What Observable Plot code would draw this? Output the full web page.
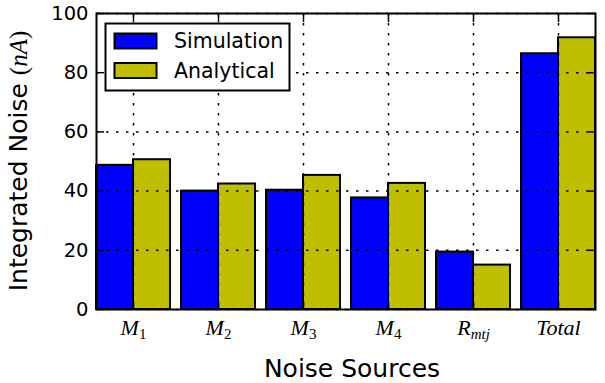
<!DOCTYPE html>
<html><head><meta charset="utf-8">
<script src="https://cdn.jsdelivr.net/npm/d3@7"></script>
<script src="https://cdn.jsdelivr.net/npm/@observablehq/plot@0.6"></script>
<style>body{margin:0;background:#fff} #chart svg{display:block}</style>
</head><body><div id="chart"></div>
<script>
const categories = ["M_1","M_2","M_3","M_4","R_mtj","Total"];
const simulation = [48.7, 40.0, 40.3, 37.7, 19.4, 86.4];
const analytical = [50.6, 42.4, 45.3, 42.6, 15.0, 91.8];
const yTicks = [0, 20, 40, 60, 80, 100];
const seriesNames = ["Simulation", "Analytical"];
const colors = ["#0000ff", "#bfbf00"];

const W = 605, H = 383, mL = 96, mR = 10, mT = 13, mB = 74;
const padInner = 0.13;
const bw = (W - mL - mR) / (categories.length - padInner) * (1 - padInner);
const half = bw / 2;

const rows = categories.map((c, i) => ({cat: c, sim: simulation[i], ana: analytical[i]}));
const dash = "2.5,7.5";

const svg = Plot.plot({
  width: W, height: H,
  marginLeft: mL, marginRight: mR, marginTop: mT, marginBottom: mB,
  style: {fontFamily: "DejaVu Sans", background: "white", color: "black"},
  x: {type: "band", domain: categories, paddingInner: padInner, paddingOuter: 0, label: null},
  y: {domain: [0, 100], label: null},
  marks: [
    Plot.barY(rows, {x: "cat", y: "sim", fill: colors[0], stroke: "black", strokeWidth: 2, insetRight: half}),
    Plot.barY(rows, {x: "cat", y: "ana", fill: colors[1], stroke: "black", strokeWidth: 2, insetLeft: half}),
    Plot.gridY({ticks: yTicks, stroke: "black", strokeOpacity: 1, strokeWidth: 1.5, strokeDasharray: dash}),
    Plot.gridX({ticks: categories, stroke: "black", strokeOpacity: 1, strokeWidth: 1.5, strokeDasharray: dash}),
    Plot.axisY({ticks: yTicks, anchor: "left", tickSize: 0, tickPadding: 8, fontSize: 19.5, label: null}),
    Plot.axisY({ticks: yTicks, anchor: "left", tickSize: 8, dx: 8, tickFormat: () => "", label: null, strokeWidth: 1.5}),
    Plot.axisY({ticks: yTicks, anchor: "right", tickSize: 8, dx: -8, tickFormat: () => "", label: null, strokeWidth: 1.5}),
    Plot.axisX({ticks: categories, anchor: "top", tickSize: 8, dy: 8, tickFormat: () => "", label: null, strokeWidth: 1.5}),
    Plot.axisX({ticks: categories, anchor: "bottom", tickSize: 8, dy: -8, tickFormat: () => "", label: null, strokeWidth: 1.5}),
    Plot.axisX({ticks: categories, anchor: "bottom", tickSize: 0, tickPadding: 10, fontSize: 22, label: null}),
    Plot.frame({stroke: "black", strokeWidth: 2})
  ]
});
document.getElementById("chart").appendChild(svg);

const S = d3.select(svg);
const mathFont = "Liberation Serif";
// math-style tick labels with subscripts
S.selectAll('g[aria-label="x-axis tick label"] text').each(function () {
  const t = this.textContent;
  if (!t) return;
  const [base, sub] = t.split("_");
  const s = d3.select(this);
  s.text(null).attr("font-family", mathFont).attr("font-size", 22);
  s.append("tspan").attr("font-style", "italic").text(base);
  if (sub) {
    s.append("tspan").attr("dy", "0.28em").attr("font-size", 15)
      .attr("font-style", /^\d+$/.test(sub) ? "normal" : "italic").text(sub);
  }
});

// y-axis label
const yl = S.append("text")
  .attr("transform", "translate(26.5,161) rotate(-90)")
  .attr("text-anchor", "middle").attr("font-family", "DejaVu Sans").attr("font-size", 25).attr("fill", "black");
yl.append("tspan").text("Integrated Noise ");
yl.append("tspan").attr("font-family", mathFont).text("(");
yl.append("tspan").attr("font-family", mathFont).attr("font-style", "italic").text("nA");
yl.append("tspan").attr("font-family", mathFont).text(")");

// x-axis label
S.append("text").attr("x", 352).attr("y", 377).attr("text-anchor", "middle")
  .attr("font-family", "DejaVu Sans").attr("font-size", 25).attr("fill", "black").text("Noise Sources");

// legend
const lg = S.append("g").attr("aria-label", "legend");
lg.append("rect").attr("x", 105.5).attr("y", 23.5).attr("width", 184).attr("height", 67)
  .attr("fill", "white").attr("stroke", "black").attr("stroke-width", 2);
seriesNames.forEach((name, i) => {
  const cy = 41 + i * 29.5;
  lg.append("rect").attr("x", 114.5).attr("y", cy - 7.5).attr("width", 42).attr("height", 15)
    .attr("fill", colors[i]).attr("stroke", "black").attr("stroke-width", 2);
  lg.append("text").attr("x", 174).attr("y", cy + 7).attr("text-anchor", "start")
    .attr("font-family", "DejaVu Sans").attr("font-size", 20.5).attr("fill", "black").text(name);
});
</script>
</body></html>
